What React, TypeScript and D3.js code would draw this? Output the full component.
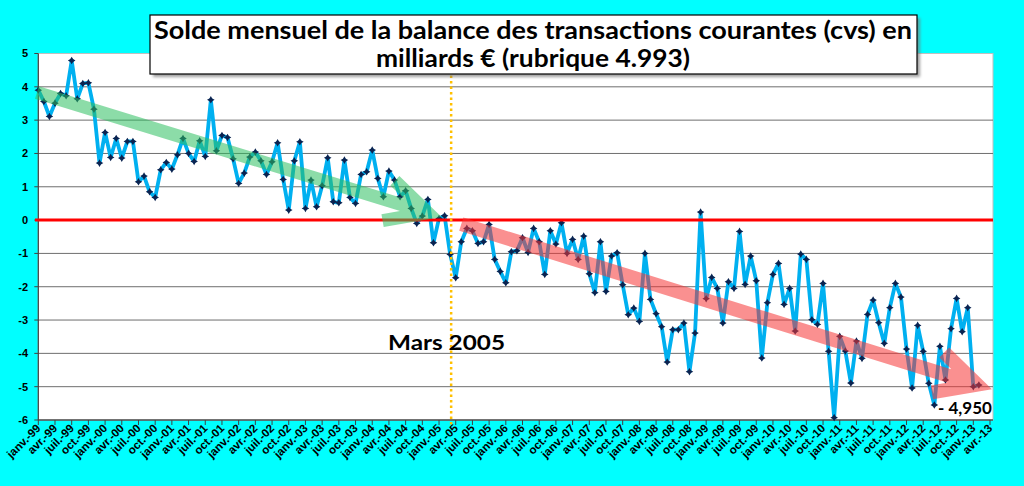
import React from "react";
import * as d3 from "d3";

// ---- data ----
const monthAbbr = ["janv.", "févr.", "mars", "avr.", "mai", "juin", "juil.", "août", "sept.", "oct.", "nov.", "déc."];
const years = [1999, 2000, 2001, 2002, 2003, 2004, 2005, 2006, 2007, 2008, 2009, 2010, 2011, 2012, 2013];
const axisMonthCount = 172; // janv.-99 .. avr.-13

const values1999 = [3.9, 3.56, 3.11, 3.51, 3.8, 3.73, 4.79, 3.64, 4.1, 4.12, 3.33, 1.71];
const values2000 = [2.63, 1.88, 2.45, 1.86, 2.36, 2.36, 1.15, 1.32, 0.85, 0.68, 1.51, 1.73];
const values2001 = [1.53, 1.96, 2.45, 2.0, 1.76, 2.38, 1.91, 3.61, 2.08, 2.54, 2.48, 1.84];
const values2002 = [1.1, 1.41, 1.89, 2.04, 1.78, 1.37, 1.75, 2.32, 1.22, 0.3, 1.78, 2.35];
const values2003 = [0.35, 1.2, 0.4, 1.03, 1.87, 0.55, 0.52, 1.8, 0.68, 0.5, 1.37, 1.45];
const values2004 = [2.1, 1.25, 0.7, 1.47, 1.2, 0.7, 0.88, 0.35, -0.1, 0.12, 0.62, -0.68];
const values2005 = [0.05, 0.13, -1.03, -1.73, -0.65, -0.25, -0.32, -0.7, -0.65, -0.13, -1.18, -1.54];
const values2006 = [-1.88, -0.95, -0.92, -0.53, -0.97, -0.25, -0.65, -1.63, -0.32, -0.72, -0.08, -1.0];
const values2007 = [-0.58, -1.18, -0.48, -1.61, -2.18, -0.65, -2.14, -1.08, -0.98, -1.94, -2.84, -2.64];
const values2008 = [-3.04, -1.0, -2.38, -2.81, -3.2, -4.26, -3.29, -3.29, -3.09, -4.55, -3.39, 0.24];
const values2009 = [-2.36, -1.72, -2.05, -3.09, -1.85, -2.05, -0.34, -1.93, -1.08, -1.82, -4.14, -2.48];
const values2010 = [-1.63, -1.3, -2.53, -2.05, -3.33, -1.02, -1.18, -2.99, -3.13, -1.9, -3.94, -5.93];
const values2011 = [-3.49, -3.93, -4.89, -3.63, -4.15, -2.83, -2.4, -3.08, -3.7, -2.63, -1.9, -2.31];
const values2012 = [-3.87, -5.04, -3.16, -3.94, -4.9, -5.55, -3.79, -4.8, -3.26, -2.35, -3.35, -2.63];
const values2013 = [-5.0, -4.95];

const yTicks = [5, 4, 3, 2, 1, 0, -1, -2, -3, -4, -5, -6];
const titleLines = [
  "Solde mensuel de la balance des transactions courantes (cvs) en",
  "milliards € (rubrique 4.993)",
];
const markerMonth = 74; // Mars 2005
const markerLabel = "Mars 2005";
const lastLabel = "- 4,950";
// trend arrows in data units: [monthIndex, value]
const greenArrow = { from: [-0.25, 3.83], to: [70.0, 0.22] };
const redArrow = { from: [76.0, -0.12], to: [168.7, -4.94] };

// ---- derived ----
const allValues = [
  ...values1999, ...values2000, ...values2001, ...values2002, ...values2003,
  ...values2004, ...values2005, ...values2006, ...values2007, ...values2008,
  ...values2009, ...values2010, ...values2011, ...values2012, ...values2013,
];
const categories = d3.range(axisMonthCount).map((i) => {
  const y = years[Math.floor(i / 12)];
  return monthAbbr[i % 12] + "-" + String(y).slice(2);
});
const series = allValues.map((v, i) => ({ i, v }));

const W = 1024;
const H = 486;
const plotLeft = 38.3;
const plotRight = 993;
const plotTop = 53.5;
const plotBottom = 420;

const x = d3.scaleLinear().domain([0, axisMonthCount - 1]).range([plotLeft, 990]);
const y = d3.scaleLinear().domain([-6, 5]).range([plotBottom, plotTop]);

function arrowPath(a: { from: number[]; to: number[] }) {
  const x0 = x(a.from[0]);
  const y0 = y(a.from[1]);
  const x1 = x(a.to[0]);
  const y1 = y(a.to[1]);
  const ang = Math.atan2(y1 - y0, x1 - x0);
  const L = 46;
  const half = (27 * Math.PI) / 180;
  const b1x = x1 - L * Math.cos(ang - half);
  const b1y = y1 - L * Math.sin(ang - half);
  const b2x = x1 - L * Math.cos(ang + half);
  const b2y = y1 - L * Math.sin(ang + half);
  return `M${x0},${y0}L${x1},${y1}M${b1x},${b1y}L${x1},${y1}L${b2x},${b2y}`;
}

// 4-pointed star marker
const R = 3.8;
const r = 1.4;
const starMarker = `M0,${-R}L${r},${-r}L${R},0L${r},${r}L0,${R}L${-r},${r}L${-R},0L${-r},${-r}Z`;

export default function App() {
  const line = d3
    .line<{ i: number; v: number }>()
    .x((d) => x(d.i))
    .y((d) => y(d.v));
  const tickIdx = d3.range(0, axisMonthCount, 3);
  const axisFont = "'Liberation Sans', Arial, sans-serif";
  const titleFont = "Lato, 'Noto Sans', sans-serif";

  return (
    <svg width={W} height={H} style={{ position: "absolute", left: 0, top: 0 }}>
      <defs>
        <filter id="shadow" x="-5%" y="-20%" width="110%" height="140%">
          <feGaussianBlur stdDeviation="1.5" />
        </filter>
      </defs>
      <rect x={0} y={0} width={W} height={H} fill="#00FFFF" />
      <rect x={plotLeft} y={plotTop} width={plotRight - plotLeft} height={plotBottom - plotTop} fill="#FFFFFF" stroke="#BFBFBF" strokeWidth={1} />
      {yTicks.map((t) => (
        <line key={"g" + t} x1={plotLeft} x2={plotRight} y1={y(t)} y2={y(t)} stroke={t === 5 ? "#BFBFBF" : "#6E6E6E"} strokeWidth={1} />
      ))}
      {/* y axis */}
      <line x1={plotLeft} x2={plotLeft} y1={plotTop} y2={plotBottom} stroke="#404040" strokeWidth={1.2} />
      {yTicks.map((t) => (
        <g key={"yt" + t}>
          <line x1={plotLeft - 4} x2={plotLeft} y1={y(t)} y2={y(t)} stroke="#404040" />
          <text x={28} y={y(t)} dy="0.35em" textAnchor="end" fontFamily={axisFont} fontWeight="bold" fontSize={11} fill="#000">
            {t}
          </text>
        </g>
      ))}
      {/* x axis */}
      <line x1={plotLeft} x2={plotRight} y1={plotBottom} y2={plotBottom} stroke="#404040" strokeWidth={1.2} />
      {tickIdx.map((i) => (
        <g key={"xt" + i}>
          <line x1={x(i)} x2={x(i)} y1={plotBottom} y2={plotBottom + 5} stroke="#404040" />
          <text
            transform={`translate(${x(i) + 3},${plotBottom + 9}) rotate(-45)`}
            textAnchor="end"
            fontFamily={axisFont}
            fontWeight="bold"
            fontSize={11.5}
            fill="#000"
          >
            {categories[i]}
          </text>
        </g>
      ))}
      {/* series */}
      <path d={line(series) || ""} fill="none" stroke="#00B0F0" strokeWidth={3.8} strokeLinejoin="round" />
      {series.map((d) => (
        <path key={"m" + d.i} d={starMarker} transform={`translate(${x(d.i)},${y(d.v)})`} fill="#0B2350" />
      ))}
      {/* zero line */}
      <line x1={35} x2={plotRight} y1={y(0)} y2={y(0)} stroke="#FF0000" strokeWidth={3} />
      {/* Mars 2005 dotted line */}
      <line x1={x(markerMonth) + 1} x2={x(markerMonth) + 1} y1={plotTop} y2={plotBottom + 6} stroke="#FFC000" strokeWidth={2.5} strokeDasharray="2.5 3" />
      {/* arrows */}
      <g opacity={0.55}>
        <path d={arrowPath(greenArrow)} fill="none" stroke="#2EC060" strokeWidth={13} strokeLinejoin="miter" strokeMiterlimit={10} />
      </g>
      <g opacity={0.55}>
        <path d={arrowPath(redArrow)} fill="none" stroke="#F53535" strokeWidth={14} strokeLinejoin="miter" strokeMiterlimit={10} />
      </g>
      <text x={388} y={350} fontFamily={titleFont} fontWeight="bold" fontSize={20} textLength={117} lengthAdjust="spacingAndGlyphs" fill="#000">
        {markerLabel}
      </text>
      <text x={938} y={414} fontFamily={titleFont} fontWeight="bold" fontSize={17} fill="#000">
        {lastLabel}
      </text>
      {/* title box */}
      <rect x={153} y={18} width={767} height={59} fill="#777" opacity={0.7} filter="url(#shadow)" />
      <rect x={150} y={15} width={767} height={59} fill="#FFFFFF" stroke="#000" strokeWidth={1.2} />
      <text x={533} y={39} textAnchor="middle" fontFamily={titleFont} fontWeight="bold" fontSize={24} textLength={758} lengthAdjust="spacingAndGlyphs" fill="#000">
        {titleLines[0]}
      </text>
      <text x={533} y={67} textAnchor="middle" fontFamily={titleFont} fontWeight="bold" fontSize={24} textLength={314} lengthAdjust="spacingAndGlyphs" fill="#000">
        {titleLines[1]}
      </text>
    </svg>
  );
}
